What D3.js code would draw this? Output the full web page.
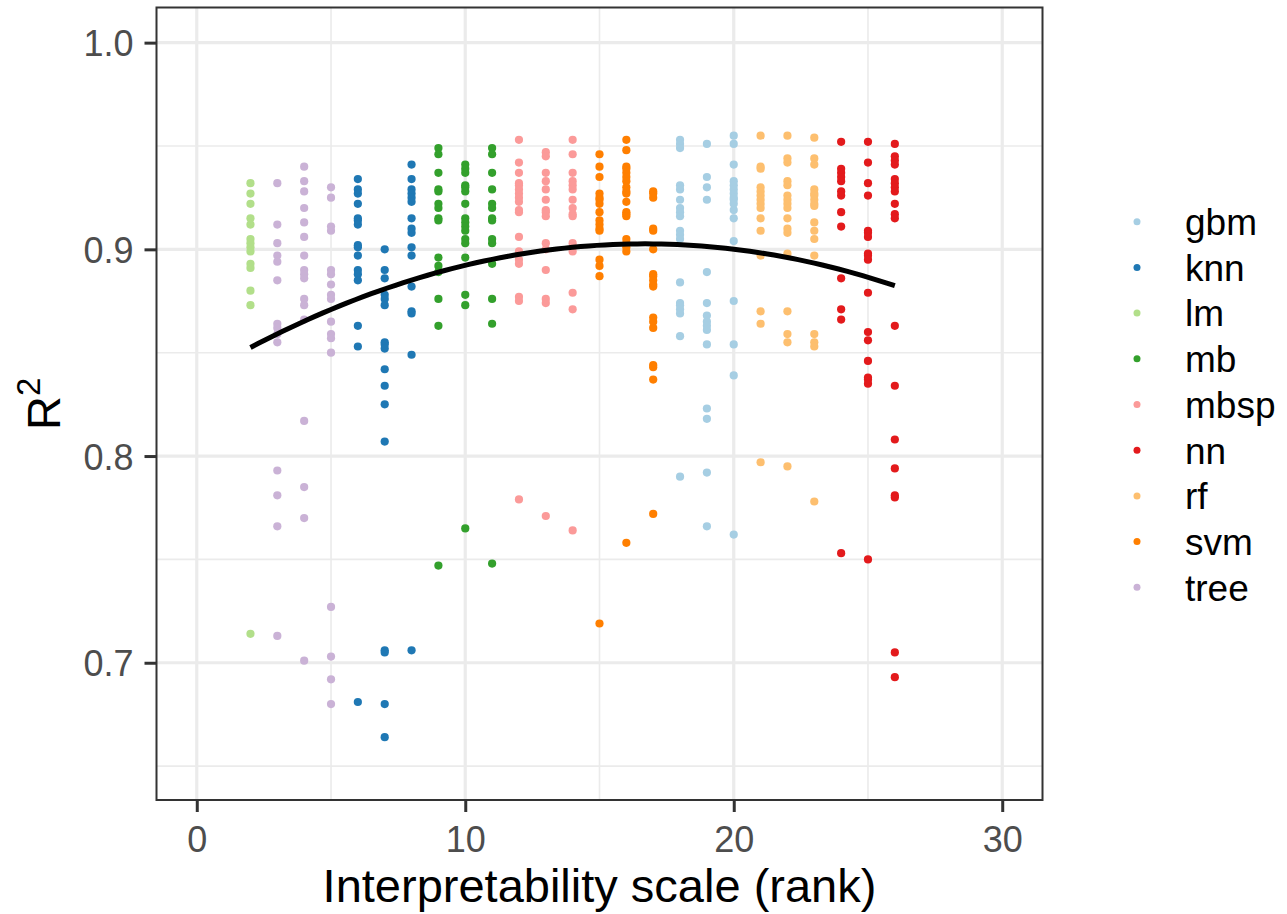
<!DOCTYPE html>
<html>
<head>
<meta charset="utf-8">
<script src="https://cdn.jsdelivr.net/npm/d3@7/dist/d3.min.js"></script>
<style>
  html, body { margin: 0; padding: 0; background: #ffffff; }
  svg { display: block; font-family: "Liberation Sans", Arial, Helvetica, sans-serif; }
</style>
</head>
<body>
<svg id="chart" width="1287" height="914"></svg>
<script>
// R² of each model run, grouped by interpretability rank: [rank, [values...]]
const gbm = [
  [18, [0.953,0.951,0.949,0.931,0.929,0.924,0.920,0.918,0.916,0.909,0.907,0.905,0.884,0.874,0.873,0.871,0.869,0.858,0.790]],
  [19, [0.951,0.935,0.930,0.924,0.889,0.874,0.868,0.865,0.863,0.861,0.854,0.823,0.818,0.792,0.766]],
  [20, [0.955,0.951,0.941,0.933,0.931,0.929,0.927,0.925,0.924,0.922,0.919,0.915,0.904,0.875,0.854,0.839,0.762]]
];
const knn = [
  [6, [0.934,0.929,0.927,0.922,0.915,0.914,0.912,0.902,0.901,0.897,0.890,0.888,0.885,0.863,0.853,0.681]],
  [7, [0.900,0.890,0.886,0.878,0.876,0.873,0.855,0.854,0.852,0.842,0.834,0.825,0.807,0.706,0.705,0.680,0.664]],
  [8, [0.941,0.934,0.929,0.927,0.925,0.923,0.915,0.910,0.908,0.901,0.897,0.882,0.870,0.869,0.849,0.706]]
];
const lm = [
  [2, [0.932,0.927,0.922,0.915,0.912,0.905,0.903,0.901,0.899,0.893,0.891,0.880,0.873,0.714]]
];
const mb = [
  [9, [0.949,0.946,0.937,0.929,0.928,0.922,0.920,0.915,0.914,0.896,0.892,0.889,0.876,0.863,0.747]],
  [10, [0.941,0.939,0.937,0.931,0.930,0.928,0.922,0.915,0.913,0.911,0.909,0.905,0.903,0.896,0.878,0.873,0.765]],
  [11, [0.949,0.946,0.937,0.929,0.922,0.920,0.915,0.914,0.905,0.903,0.893,0.876,0.864,0.748]]
];
const mbsp = [
  [12, [0.953,0.942,0.937,0.932,0.931,0.929,0.927,0.925,0.923,0.919,0.918,0.906,0.899,0.895,0.893,0.877,0.875,0.779]],
  [13, [0.947,0.945,0.937,0.933,0.929,0.924,0.919,0.918,0.916,0.903,0.900,0.890,0.876,0.874,0.771]],
  [14, [0.953,0.946,0.937,0.933,0.931,0.929,0.924,0.920,0.917,0.916,0.903,0.899,0.879,0.871,0.764]]
];
const nn = [
  [24, [0.952,0.939,0.937,0.935,0.933,0.928,0.926,0.918,0.911,0.886,0.871,0.866,0.753]],
  [25, [0.952,0.942,0.932,0.926,0.909,0.908,0.906,0.898,0.897,0.895,0.879,0.860,0.856,0.846,0.838,0.837,0.835,0.750]],
  [26, [0.951,0.945,0.943,0.941,0.934,0.932,0.930,0.928,0.922,0.917,0.915,0.863,0.834,0.808,0.794,0.781,0.780,0.705,0.693]]
];
const rf = [
  [21, [0.955,0.940,0.939,0.930,0.928,0.926,0.924,0.922,0.920,0.915,0.909,0.897,0.870,0.864,0.797]],
  [22, [0.955,0.944,0.942,0.933,0.931,0.926,0.924,0.922,0.920,0.915,0.910,0.908,0.898,0.870,0.859,0.855,0.795]],
  [23, [0.954,0.944,0.941,0.929,0.927,0.926,0.924,0.922,0.921,0.913,0.909,0.905,0.897,0.859,0.855,0.853,0.778]]
];
const svm = [
  [15, [0.946,0.940,0.935,0.927,0.925,0.924,0.922,0.918,0.914,0.912,0.910,0.909,0.895,0.892,0.887,0.719]],
  [16, [0.953,0.948,0.940,0.939,0.937,0.935,0.933,0.930,0.928,0.927,0.923,0.918,0.917,0.916,0.905,0.903,0.901,0.899,0.758]],
  [17, [0.928,0.927,0.925,0.910,0.909,0.900,0.888,0.887,0.885,0.883,0.882,0.867,0.865,0.862,0.844,0.843,0.837,0.772]]
];
const tree = [
  [3, [0.932,0.912,0.903,0.897,0.894,0.885,0.864,0.862,0.859,0.855,0.793,0.781,0.766,0.713]],
  [4, [0.940,0.933,0.928,0.920,0.913,0.906,0.897,0.890,0.888,0.886,0.876,0.873,0.866,0.817,0.785,0.770,0.701]],
  [5, [0.930,0.925,0.911,0.909,0.890,0.888,0.883,0.878,0.876,0.865,0.859,0.857,0.850,0.727,0.703,0.692,0.680]]
];

const modelNames = ["gbm", "knn", "lm", "mb", "mbsp", "nn", "rf", "svm", "tree"];
const modelColors = ["#A6CEE3", "#1F78B4", "#B2DF8A", "#33A02C", "#FB9A99", "#E31A1C", "#FDBF6F", "#FF7F00", "#CAB2D6"];
const xTicks = [0, 10, 20, 30];
const xMinor = [5, 15, 25];
const yTicks = [0.7, 0.8, 0.9, 1.0];
const yMinor = [0.65, 0.75, 0.85, 0.95];

const seriesByName = { gbm, knn, lm, mb, mbsp, nn, rf, svm, tree };

// flatten into one row per point
const points = [];
modelNames.forEach(name => {
  seriesByName[name].forEach(([rank, vals]) => {
    vals.forEach(v => points.push({ model: name, x: rank, y: v }));
  });
});

const svg = d3.select("#chart");
const panel = { left: 156.5, right: 1042.5, top: 7.5, bottom: 800 };

const x = d3.scaleLinear().domain([-1.5, 31.5]).range([panel.left, panel.right]);
const y = d3.scaleLinear().domain([0.6336, 1.017]).range([panel.bottom, panel.top]);
const color = d3.scaleOrdinal().domain(modelNames).range(modelColors);

svg.append("rect").attr("width", 1287).attr("height", 914).attr("fill", "#ffffff");

// grid
const grid = svg.append("g");
grid.selectAll(".ymin").data(yMinor).join("line")
  .attr("x1", panel.left).attr("x2", panel.right)
  .attr("y1", d => y(d)).attr("y2", d => y(d))
  .attr("stroke", "#EBEBEB").attr("stroke-width", 1.6);
grid.selectAll(".xmin").data(xMinor).join("line")
  .attr("y1", panel.top).attr("y2", panel.bottom)
  .attr("x1", d => x(d)).attr("x2", d => x(d))
  .attr("stroke", "#EBEBEB").attr("stroke-width", 1.6);
grid.selectAll(".ymaj").data(yTicks).join("line")
  .attr("x1", panel.left).attr("x2", panel.right)
  .attr("y1", d => y(d)).attr("y2", d => y(d))
  .attr("stroke", "#EBEBEB").attr("stroke-width", 3.2);
grid.selectAll(".xmaj").data(xTicks).join("line")
  .attr("y1", panel.top).attr("y2", panel.bottom)
  .attr("x1", d => x(d)).attr("x2", d => x(d))
  .attr("stroke", "#EBEBEB").attr("stroke-width", 3.2);

// points
svg.append("g").selectAll("circle").data(points).join("circle")
  .attr("cx", d => x(d.x)).attr("cy", d => y(d.y))
  .attr("r", 4.1).attr("fill", d => color(d.model));

// quadratic least-squares trend, y ~ x + x^2
function quadFit(pts) {
  let s = [0, 0, 0, 0, 0], t = [0, 0, 0];
  pts.forEach(p => {
    const xi = p.x, yi = p.y;
    let xp = 1;
    for (let k = 0; k < 5; k++) { s[k] += xp; if (k < 3) t[k] += xp * yi; xp *= xi; }
  });
  const A = [[s[0], s[1], s[2], t[0]], [s[1], s[2], s[3], t[1]], [s[2], s[3], s[4], t[2]]];
  for (let i = 0; i < 3; i++) {
    for (let j = i + 1; j < 3; j++) {
      const f = A[j][i] / A[i][i];
      for (let k = i; k < 4; k++) A[j][k] -= f * A[i][k];
    }
  }
  const c = [0, 0, 0];
  for (let i = 2; i >= 0; i--) {
    let v = A[i][3];
    for (let k = i + 1; k < 3; k++) v -= A[i][k] * c[k];
    c[i] = v / A[i][i];
  }
  return c;
}
const coef = quadFit(points);
const xr = d3.extent(points, d => d.x);
const fitPts = d3.range(0, 81).map(i => {
  const xv = xr[0] + (xr[1] - xr[0]) * i / 80;
  return [xv, coef[0] + coef[1] * xv + coef[2] * xv * xv];
});
svg.append("path")
  .attr("d", d3.line().x(d => x(d[0])).y(d => y(d[1]))(fitPts))
  .attr("fill", "none").attr("stroke", "#000000").attr("stroke-width", 5);

// panel border
svg.append("rect")
  .attr("x", panel.left).attr("y", panel.top)
  .attr("width", panel.right - panel.left).attr("height", panel.bottom - panel.top)
  .attr("fill", "none").attr("stroke", "#333333").attr("stroke-width", 2);

// axes
const xAxis = d3.axisBottom(x).tickValues(xTicks).tickSize(12).tickPadding(14).tickFormat(d3.format("d"));
const gx = svg.append("g").attr("transform", `translate(0,${panel.bottom})`).call(xAxis);
gx.select(".domain").remove();
gx.selectAll(".tick line").attr("stroke", "#333333").attr("stroke-width", 3);
gx.selectAll(".tick text").attr("fill", "#4D4D4D").attr("font-size", 36)
  .attr("font-family", "'Liberation Sans', Arial, sans-serif").attr("dy", "0.71em");

const yAxis = d3.axisLeft(y).tickValues(yTicks).tickSize(12).tickPadding(11).tickFormat(d3.format(".1f"));
const gy = svg.append("g").attr("transform", `translate(${panel.left},0)`).call(yAxis);
gy.select(".domain").remove();
gy.selectAll(".tick line").attr("stroke", "#333333").attr("stroke-width", 3);
gy.selectAll(".tick text").attr("fill", "#4D4D4D").attr("font-size", 36)
  .attr("font-family", "'Liberation Sans', Arial, sans-serif").attr("dy", "0.36em");

// axis titles
svg.append("text")
  .attr("x", (panel.left + panel.right) / 2).attr("y", 902)
  .attr("text-anchor", "middle").attr("font-size", 47).attr("fill", "#000000")
  .text("Interpretability scale (rank)");

const yt = svg.append("text")
  .attr("transform", `translate(60,${(panel.top + panel.bottom) / 2}) rotate(-90)`)
  .attr("text-anchor", "middle").attr("font-size", 47).attr("fill", "#000000");
yt.append("tspan").text("R");
yt.append("tspan").attr("font-size", 33).attr("dy", -20).text("2");

// legend
const legend = svg.append("g");
const lg = legend.selectAll("g").data(modelNames).join("g")
  .attr("transform", (d, i) => `translate(1137,${221.7 + i * 45.7})`);
lg.append("circle").attr("r", 3.5).attr("fill", d => color(d));
lg.append("text").attr("x", 48).attr("y", 13.3).attr("font-size", 37).attr("fill", "#000000").text(d => d);
</script>
</body>
</html>
